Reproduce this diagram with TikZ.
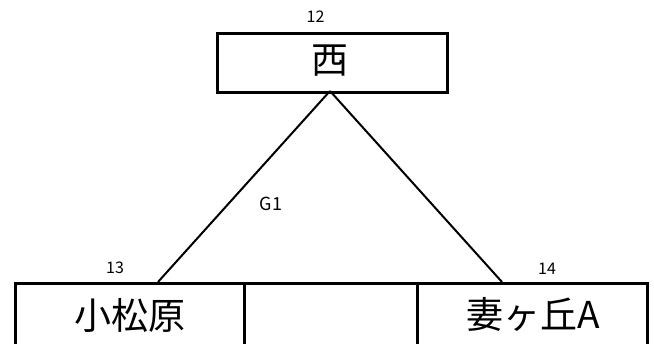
\documentclass[tikz,border=0pt]{standalone}
\usepackage{fontspec}
\setmainfont{Noto Sans CJK JP}
\begin{document}
\begin{tikzpicture}[x=1pt,y=1pt,
  box/.style={draw,line width=3pt,inner sep=0pt,anchor=north west},
  big/.style={font=\fontsize{37}{37}\selectfont},
  small/.style={font=\fontsize{16}{16}\selectfont},
  link/.style={line width=2pt}]
\useasboundingbox (0,0) rectangle (654,-344);
\clip (0,0) rectangle (654,-344);
\node[box,minimum width=230pt,minimum height=59pt] (n12) at (215.5,-32) {};
\node[big] at (330,-61) {西};
\node[small] at (315.5,-17) {12};
\node[box,minimum width=229.5pt,minimum height=90pt] (n13) at (13.5,-282) {};
\node[box,minimum width=173pt,minimum height=90pt] (nmid) at (243,-282) {};
\node[box,minimum width=229.5pt,minimum height=90pt] (n14) at (416,-282) {};
\node[big] at (130,-315) {小松原};
\node[big] at (533,-314) {妻ヶ丘A};
\node[small] at (115,-268) {13};
\node[small] at (547,-269) {14};
\node[font=\fontsize{18}{18}\selectfont] at (271,-204) {G1};
\coordinate (top) at (330,-91);
\coordinate (e13) at (158,-282);
\coordinate (e14) at (502,-282);
\draw[link] (top) -- (e13);
\draw[link] (top) -- (e14);
\end{tikzpicture}
\end{document}
